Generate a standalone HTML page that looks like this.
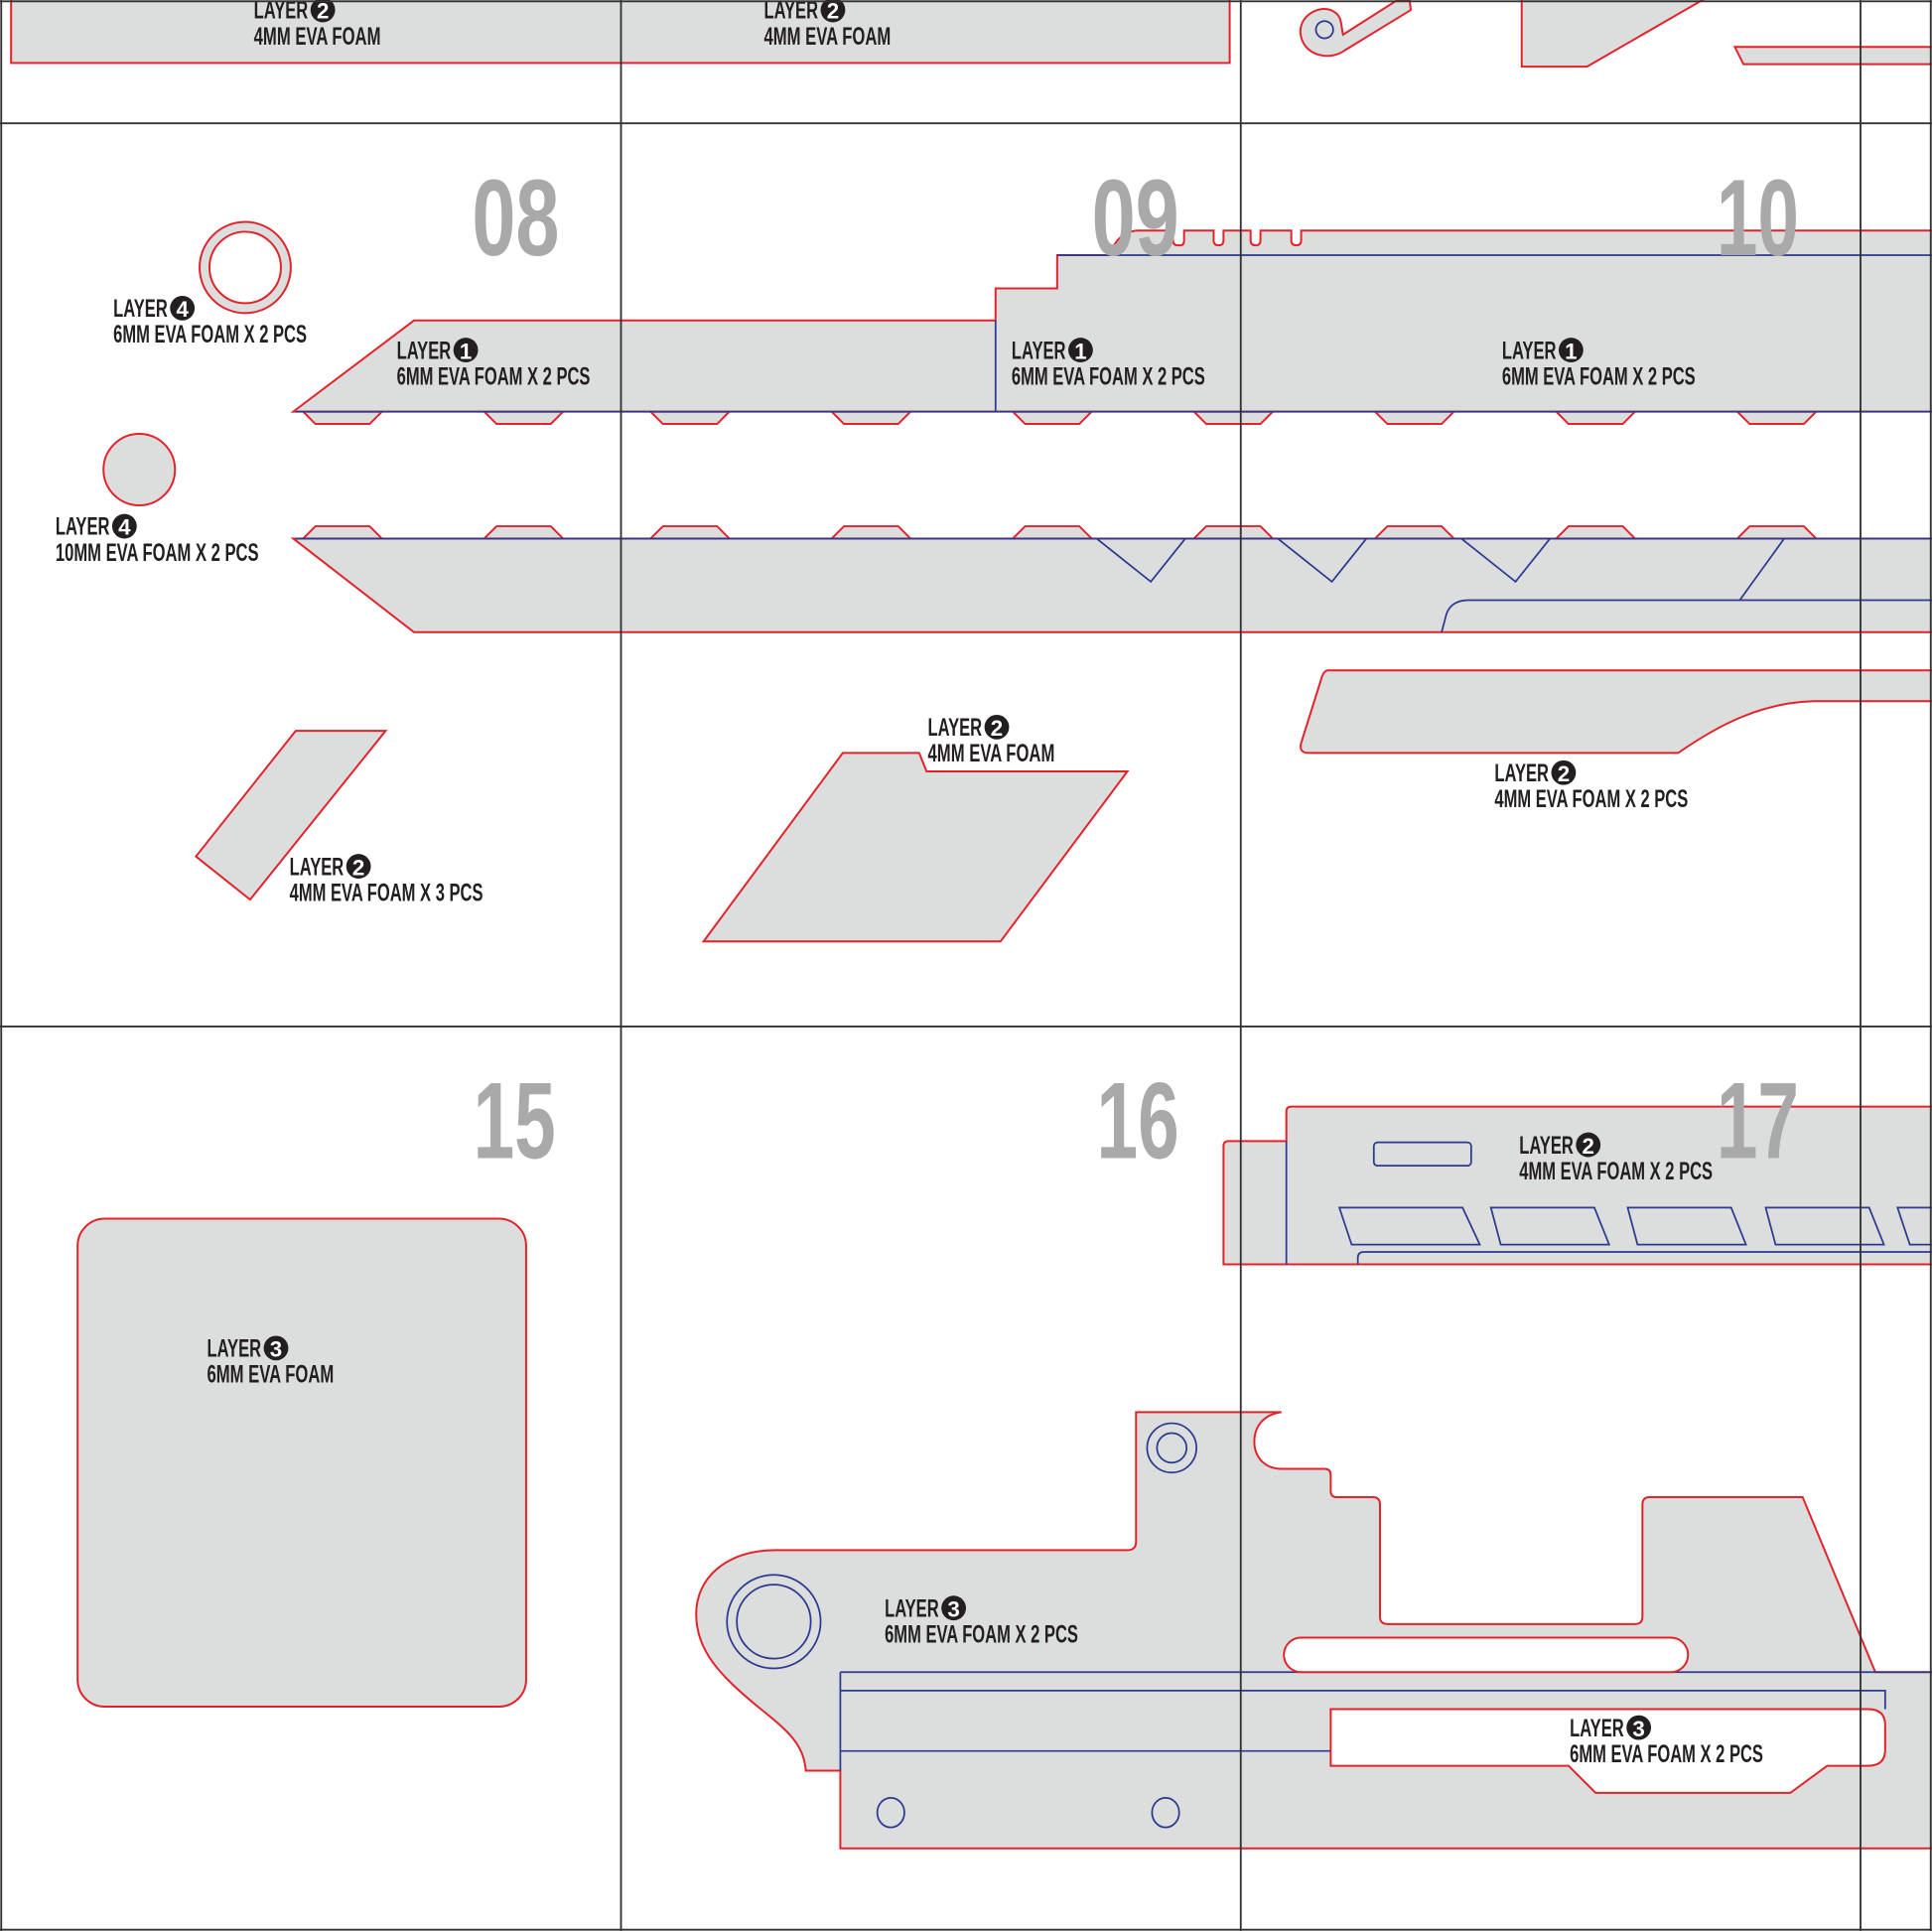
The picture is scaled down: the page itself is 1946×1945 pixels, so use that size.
<!DOCTYPE html>
<html><head><meta charset="utf-8"><style>
html,body{margin:0;padding:0;background:#fff;}
svg{display:block;}
text{font-family:"Liberation Sans Narrow","Liberation Sans",sans-serif;font-weight:bold;}
.p{fill:#dcdddd;stroke:#e3222b;stroke-width:1.6;}
.w{fill:#fff;stroke:#e3222b;stroke-width:1.6;}
.b{fill:none;stroke:#2b3990;stroke-width:1.4;}
.g{stroke:#333;stroke-width:1.5;fill:none;}
.lb{fill:#231f20;font-size:20px;}
.n{fill:#a9a9a9;font-size:88px;}
</style></head><body>
<svg width="1946" height="1945" viewBox="0 0 1568 1567" xmlns="http://www.w3.org/2000/svg">
<rect width="1568" height="1567" fill="#fff"/>
<defs>
<g id="tab"><polygon points="0,0 10,10 54,10 64,0"/></g>
<g id="tabu"><polygon points="0,0 10,-10 54,-10 64,0"/></g>
</defs>

<!-- top row -->
<rect class="p" x="9" y="-5" width="989" height="56"/>
<path class="p" d="M1144,0 L1145,8 L1091,41 C1080,49 1060,46 1056,30 C1052,15 1068,4 1080,8 C1090,12 1088,20 1090,28 L1134,0 Z"/>
<circle class="b" cx="1075" cy="24" r="7"/>
<polygon class="p" points="1235,-2 1235,54 1288,54 1385,-2"/>
<polygon class="p" points="1408,38 1570,38 1570,52 1415,52"/>

<!-- upper long piece -->
<g class="p">
<use href="#tab" x="246" y="334"/><use href="#tab" x="393" y="334"/><use href="#tab" x="528" y="334"/><use href="#tab" x="675" y="334"/><use href="#tab" x="822" y="334"/><use href="#tab" x="969" y="334"/><use href="#tab" x="1116" y="334"/><use href="#tab" x="1263" y="334"/><use href="#tab" x="1410" y="334"/>
</g>
<path class="p" d="M238,334 L336,260 L808,260 L808,234 L858,234 L858,207 L900,207 C905,195 912,187 924,187 L952,187 L952,195 Q952,199 956,199 L958,199 Q961,199 961,195 L961,187 L985,187 L985,195 Q985,199 989,199 Q993,199 993,195 L993,187 L1015,187 L1015,195 Q1015,199 1019,199 Q1023,199 1023,195 L1023,187 L1048,187 L1048,195 Q1048,199 1052,199 Q1056,199 1056,195 L1056,187 L1570,187 L1570,334 Z"/>
<line class="b" x1="858" y1="207" x2="1570" y2="207"/>
<line class="b" x1="808" y1="260" x2="808" y2="334"/>
<line class="b" x1="240" y1="334" x2="1570" y2="334"/>

<!-- lower long piece -->
<g class="p">
<use href="#tabu" x="246" y="437"/><use href="#tabu" x="393" y="437"/><use href="#tabu" x="528" y="437"/><use href="#tabu" x="675" y="437"/><use href="#tabu" x="822" y="437"/><use href="#tabu" x="969" y="437"/><use href="#tabu" x="1116" y="437"/><use href="#tabu" x="1263" y="437"/><use href="#tabu" x="1410" y="437"/>
</g>
<polygon class="p" points="238,437 1570,437 1570,513 336,513"/>
<line class="b" x1="240" y1="437" x2="1570" y2="437"/>
<polyline class="b" points="890,437 934,472 962,437"/>
<polyline class="b" points="1037,437 1081,472 1109,437"/>
<polyline class="b" points="1186,437 1230,472 1258,437"/>
<line class="b" x1="1448" y1="437" x2="1412" y2="487"/>
<path class="b" d="M1170,513 L1174,498 Q1178,487 1192,487 L1570,487"/>

<!-- circles -->
<path class="p" fill-rule="evenodd" d="M162,217 a37,37 0 1,0 74,0 a37,37 0 1,0 -74,0 Z M170,217 a29,29 0 1,1 58,0 a29,29 0 1,1 -58,0 Z"/>
<circle class="p" cx="113" cy="381" r="29"/>

<polygon class="p" points="240,593 313,593 203,730 159,695"/>
<polygon class="p" points="684,611 746,611 752,626 915,626 812,764 571,764"/>
<path class="p" d="M1078,544 L1570,544 L1570,569 L1472,569 C1430,570 1395,588 1362,611 L1062,611 Q1054,611 1056,603 L1072,552 Q1074,544 1078,544 Z"/>

<!-- square -->
<rect class="p" x="63" y="989" width="364" height="396" rx="22"/>

<!-- piece 17 -->
<path class="p" d="M993,930 Q993,926 997,926 L1044,926 L1044,902 Q1044,898 1048,898 L1570,898 L1570,1026 L993,1026 Z"/>
<line class="b" x1="1044" y1="926" x2="1044" y2="1026"/>
<rect class="b" x="1115" y="927" width="79" height="19" rx="3"/>
<polygon class="b" points="1087,980 1187,980 1201,1010 1097,1010"/>
<polygon class="b" points="1210,980 1294,980 1306,1010 1218,1010"/>
<polygon class="b" points="1321,980 1405,980 1417,1010 1329,1010"/>
<polygon class="b" points="1433,980 1517,980 1529,1010 1441,1010"/>
<polygon class="b" points="1540,980 1570,980 1570,1010 1550,1010"/>
<path class="b" d="M1102,1026 L1102,1021 Q1102,1016 1107,1016 L1570,1016"/>

<!-- big bottom piece -->
<path class="p" d="M922,1146 L1040,1146 C1025,1148 1018,1158 1018,1170 C1018,1182 1026,1192 1040,1192 L1075,1192 Q1080,1192 1080,1197 L1080,1210 Q1080,1215 1085,1215 L1114,1215 Q1120,1215 1120,1221 L1120,1312 Q1120,1318 1126,1318 L1327,1318 Q1333,1318 1333,1312 L1333,1221 Q1333,1215 1339,1215 L1463,1215 L1522,1357 L1570,1357 L1570,1500 L682,1500 L682,1437 L654,1437 C652,1415 640,1405 615,1385 C585,1360 565,1340 565,1310 C565,1280 590,1258 630,1258 L915,1258 Q922,1258 922,1251 Z"/>
<line class="b" x1="682" y1="1357" x2="1570" y2="1357"/>
<polyline class="b" points="682,1372 1530,1372 1530,1387"/>
<line class="b" x1="682" y1="1421" x2="1080" y2="1421"/>
<line class="b" x1="682" y1="1357" x2="682" y2="1437"/>
<circle class="b" cx="628" cy="1316" r="38"/><circle class="b" cx="628" cy="1316" r="30"/>
<circle class="b" cx="951" cy="1175" r="20"/><circle class="b" cx="951" cy="1175" r="12"/>
<ellipse class="b" cx="723" cy="1471" rx="11" ry="12"/>
<ellipse class="b" cx="946" cy="1471" rx="11" ry="12"/>
<rect class="w" x="1042" y="1329" width="328" height="28" rx="14"/>
<path class="w" d="M1080,1387 L1516,1387 Q1530,1387 1530,1400 L1530,1420 Q1530,1433 1516,1433 L1483,1433 L1453,1455 L1295,1455 L1273,1433 L1080,1433 Z"/>

<!-- big numbers -->
<g class="n">
<text x="383" y="207" textLength="71" lengthAdjust="spacingAndGlyphs">08</text>
<text x="886" y="207" textLength="71" lengthAdjust="spacingAndGlyphs">09</text>
<text x="1393" y="207" textLength="67" lengthAdjust="spacingAndGlyphs">10</text>
<text x="384" y="940" textLength="67" lengthAdjust="spacingAndGlyphs">15</text>
<text x="890" y="940" textLength="67" lengthAdjust="spacingAndGlyphs">16</text>
<text x="1393" y="940" textLength="67" lengthAdjust="spacingAndGlyphs">17</text>
</g>

<!-- labels -->
<g class="lb">
<g transform="translate(206,8)"><text x="0" y="7" textLength="44" lengthAdjust="spacingAndGlyphs">LAYER</text><circle cx="56" cy="0" r="10"/><text x="56" y="7" fill="#fff" font-size="18" text-anchor="middle">2</text><text x="0" y="28" textLength="103" lengthAdjust="spacingAndGlyphs">4MM EVA FOAM</text></g>
<g transform="translate(620,8)"><text x="0" y="7" textLength="44" lengthAdjust="spacingAndGlyphs">LAYER</text><circle cx="56" cy="0" r="10"/><text x="56" y="7" fill="#fff" font-size="18" text-anchor="middle">2</text><text x="0" y="28" textLength="103" lengthAdjust="spacingAndGlyphs">4MM EVA FOAM</text></g>
<g transform="translate(92,250)"><text x="0" y="7" textLength="44" lengthAdjust="spacingAndGlyphs">LAYER</text><circle cx="56" cy="0" r="10"/><text x="56" y="7" fill="#fff" font-size="18" text-anchor="middle">4</text><text x="0" y="28" textLength="157" lengthAdjust="spacingAndGlyphs">6MM EVA FOAM X 2 PCS</text></g>
<g transform="translate(322,284)"><text x="0" y="7" textLength="44" lengthAdjust="spacingAndGlyphs">LAYER</text><circle cx="56" cy="0" r="10"/><text x="56" y="7" fill="#fff" font-size="18" text-anchor="middle">1</text><text x="0" y="28" textLength="157" lengthAdjust="spacingAndGlyphs">6MM EVA FOAM X 2 PCS</text></g>
<g transform="translate(821,284)"><text x="0" y="7" textLength="44" lengthAdjust="spacingAndGlyphs">LAYER</text><circle cx="56" cy="0" r="10"/><text x="56" y="7" fill="#fff" font-size="18" text-anchor="middle">1</text><text x="0" y="28" textLength="157" lengthAdjust="spacingAndGlyphs">6MM EVA FOAM X 2 PCS</text></g>
<g transform="translate(1219,284)"><text x="0" y="7" textLength="44" lengthAdjust="spacingAndGlyphs">LAYER</text><circle cx="56" cy="0" r="10"/><text x="56" y="7" fill="#fff" font-size="18" text-anchor="middle">1</text><text x="0" y="28" textLength="157" lengthAdjust="spacingAndGlyphs">6MM EVA FOAM X 2 PCS</text></g>
<g transform="translate(45,427)"><text x="0" y="7" textLength="44" lengthAdjust="spacingAndGlyphs">LAYER</text><circle cx="56" cy="0" r="10"/><text x="56" y="7" fill="#fff" font-size="18" text-anchor="middle">4</text><text x="0" y="28" textLength="165" lengthAdjust="spacingAndGlyphs">10MM EVA FOAM X 2 PCS</text></g>
<g transform="translate(753,590)"><text x="0" y="7" textLength="44" lengthAdjust="spacingAndGlyphs">LAYER</text><circle cx="56" cy="0" r="10"/><text x="56" y="7" fill="#fff" font-size="18" text-anchor="middle">2</text><text x="0" y="28" textLength="103" lengthAdjust="spacingAndGlyphs">4MM EVA FOAM</text></g>
<g transform="translate(1213,627)"><text x="0" y="7" textLength="44" lengthAdjust="spacingAndGlyphs">LAYER</text><circle cx="56" cy="0" r="10"/><text x="56" y="7" fill="#fff" font-size="18" text-anchor="middle">2</text><text x="0" y="28" textLength="157" lengthAdjust="spacingAndGlyphs">4MM EVA FOAM X 2 PCS</text></g>
<g transform="translate(235,703)"><text x="0" y="7" textLength="44" lengthAdjust="spacingAndGlyphs">LAYER</text><circle cx="56" cy="0" r="10"/><text x="56" y="7" fill="#fff" font-size="18" text-anchor="middle">2</text><text x="0" y="28" textLength="157" lengthAdjust="spacingAndGlyphs">4MM EVA FOAM X 3 PCS</text></g>
<g transform="translate(168,1094)"><text x="0" y="7" textLength="44" lengthAdjust="spacingAndGlyphs">LAYER</text><circle cx="56" cy="0" r="10"/><text x="56" y="7" fill="#fff" font-size="18" text-anchor="middle">3</text><text x="0" y="28" textLength="103" lengthAdjust="spacingAndGlyphs">6MM EVA FOAM</text></g>
<g transform="translate(1233,929)"><text x="0" y="7" textLength="44" lengthAdjust="spacingAndGlyphs">LAYER</text><circle cx="56" cy="0" r="10"/><text x="56" y="7" fill="#fff" font-size="18" text-anchor="middle">2</text><text x="0" y="28" textLength="157" lengthAdjust="spacingAndGlyphs">4MM EVA FOAM X 2 PCS</text></g>
<g transform="translate(718,1305)"><text x="0" y="7" textLength="44" lengthAdjust="spacingAndGlyphs">LAYER</text><circle cx="56" cy="0" r="10"/><text x="56" y="7" fill="#fff" font-size="18" text-anchor="middle">3</text><text x="0" y="28" textLength="157" lengthAdjust="spacingAndGlyphs">6MM EVA FOAM X 2 PCS</text></g>
<g transform="translate(1274,1402)"><text x="0" y="7" textLength="44" lengthAdjust="spacingAndGlyphs">LAYER</text><circle cx="56" cy="0" r="10"/><text x="56" y="7" fill="#fff" font-size="18" text-anchor="middle">3</text><text x="0" y="28" textLength="157" lengthAdjust="spacingAndGlyphs">6MM EVA FOAM X 2 PCS</text></g>
</g>

<!-- grid -->
<g class="g">
<line x1="1" y1="0" x2="1" y2="1567"/>
<line x1="504" y1="0" x2="504" y2="1567"/>
<line x1="1007" y1="0" x2="1007" y2="1567"/>
<line x1="1510" y1="0" x2="1510" y2="1567"/>
<line x1="1567" y1="0" x2="1567" y2="1567"/>
<line x1="0" y1="1" x2="1568" y2="1"/>
<line x1="0" y1="100" x2="1568" y2="100"/>
<line x1="0" y1="833" x2="1568" y2="833"/>
<line x1="0" y1="1566" x2="1568" y2="1566"/>
</g>
</svg>
</body></html>
